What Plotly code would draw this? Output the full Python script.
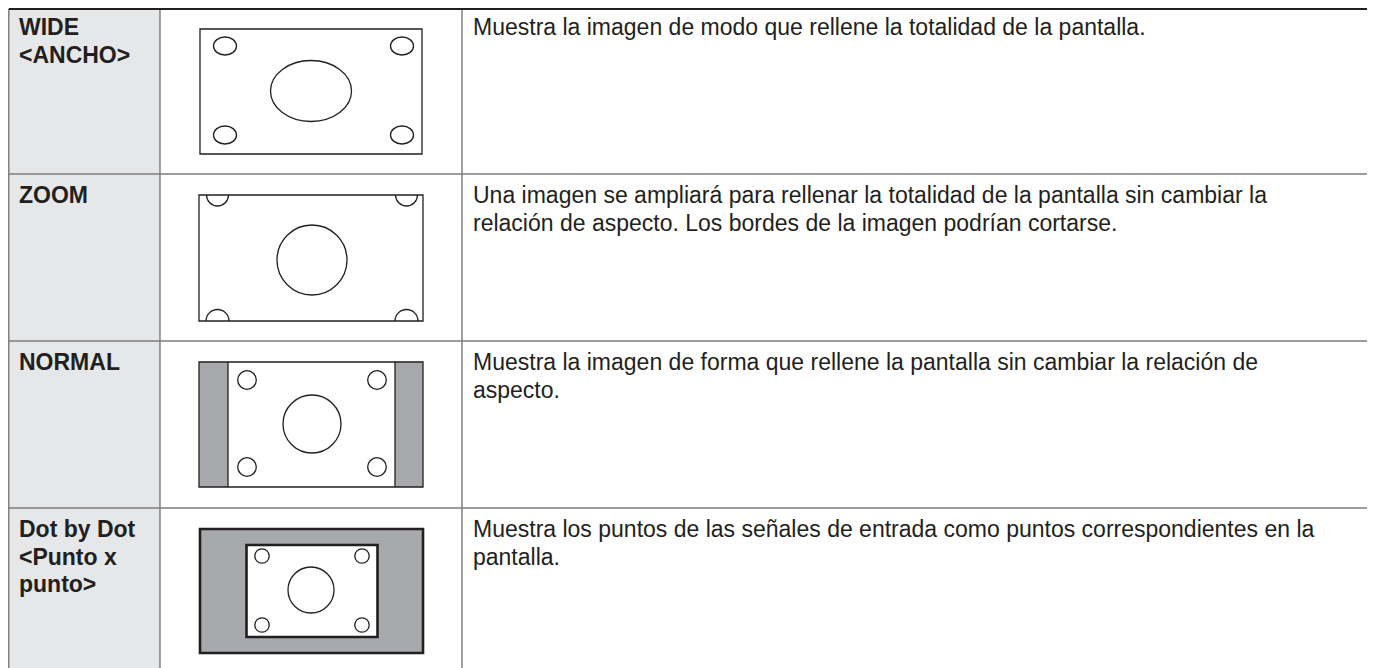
import plotly.graph_objects as go

# ---- table content ----
mode_labels = [
    ["WIDE", "&lt;ANCHO&gt;"],
    ["ZOOM"],
    ["NORMAL"],
    ["Dot by Dot", "&lt;Punto x", "punto&gt;"],
]
descriptions = [
    ["Muestra la imagen de modo que rellene la totalidad de la pantalla."],
    ["Una imagen se ampliará para rellenar la totalidad de la pantalla sin cambiar la",
     "relación de aspecto. Los bordes de la imagen podrían cortarse."],
    ["Muestra la imagen de forma que rellene la pantalla sin cambiar la relación de",
     "aspecto."],
    ["Muestra los puntos de las señales de entrada como puntos correspondientes en la",
     "pantalla."],
]

# page body has an 8px margin: the figure covers page coords 8..1375 / 8..668
PAGE_W, PAGE_H, OFF = 1375, 668, 8
row_tops = [9, 174, 341, 508]
first_line = [27, 195, 362, 529]
line_gap = 27.5
x_left, x_c1, x_c2, x_right = 8.8, 160, 462, 1368

INK = "#231f20"
GRAY = "#a7a9ac"
CELL = "#e6e7e8"
RULE = "#7d7d7d"
FONT = "Liberation Sans, Arial, sans-serif"
FSIZE = 23

shapes = []
def rect(x0, y0, x1, y1, fill="rgba(0,0,0,0)", lc=INK, lw=1.3):
    shapes.append(dict(type="rect", xref="x", yref="y", x0=x0, y0=y0, x1=x1, y1=y1,
                       fillcolor=fill, line=dict(color=lc, width=lw), layer="above"))
def ell(cx, cy, rx, ry, lw=1.3):
    shapes.append(dict(type="circle", xref="x", yref="y", x0=cx-rx, x1=cx+rx, y0=cy-ry, y1=cy+ry,
                       fillcolor="white", line=dict(color=INK, width=lw), layer="above"))
def line(x0, y0, x1, y1, lc=RULE, lw=1.5):
    shapes.append(dict(type="line", xref="x", yref="y", x0=x0, y0=y0, x1=x1, y1=y1,
                       line=dict(color=lc, width=lw), layer="above"))
def half(cx, cy, r, down=True):
    k = 0.5523 * r
    s = r if down else -r
    ks = k if down else -k
    p = (f"M {cx-r},{cy} C {cx-r},{cy+ks} {cx-k},{cy+s} {cx},{cy+s} "
         f"C {cx+k},{cy+s} {cx+r},{cy+ks} {cx+r},{cy}")
    shapes.append(dict(type="path", xref="x", yref="y", path=p,
                       line=dict(color=INK, width=1.3), layer="above"))

# first column fill
shapes.append(dict(type="rect", xref="x", yref="y", x0=x_left, x1=x_c1, y0=9, y1=PAGE_H+2,
                   fillcolor=CELL, line=dict(width=0), layer="below"))
# grid lines
for xv in (x_left, x_c1, x_c2, x_right):
    line(xv, 9, xv, PAGE_H+2, "#6d6e71", 1.3)
for y in row_tops[1:]:
    line(x_left, y, x_right, y, RULE, 1.6)
line(x_left, 9, x_right, 9, INK, 2)

# WIDE diagram
rect(200, 29, 422, 154)
ell(311, 91, 40.5, 30.5)
for cx in (225, 402):
    for cy in (46, 135):
        ell(cx, cy, 11.5, 9)

# ZOOM diagram
rect(199, 195, 423, 321)
ell(312, 260, 35, 35)
for cx in (217.5, 406.5):
    half(cx, 195, 11, down=True)
    half(cx, 321, 11.5, down=False)

# NORMAL diagram
rect(199, 362, 228, 487, fill=GRAY, lw=0)
rect(395, 362, 423, 487, fill=GRAY, lw=0)
line(228, 362, 228, 487, INK, 1.3)
line(395, 362, 395, 487, INK, 1.3)
rect(199, 362, 423, 487)
ell(312, 424, 29, 29)
for cx in (247, 377):
    for cy in (380, 467):
        ell(cx, cy, 9.3, 9.3)

# Dot by Dot diagram
rect(200, 529, 423, 653, fill=GRAY, lw=2.6)
rect(246.5, 545, 377.5, 637, fill="white", lw=2.6)
ell(311, 590, 23, 23)
for cx in (262, 362):
    for cy in (556, 625):
        ell(cx, cy, 7.2, 7.2)

annotations = []
for i in range(4):
    for j, t in enumerate(mode_labels[i]):
        annotations.append(dict(x=19, y=first_line[i] + j * line_gap, xref="x", yref="y",
                                text=f"<b>{t}</b>", showarrow=False, xanchor="left", yanchor="middle",
                                xshift=-2, font=dict(family=FONT, size=FSIZE, color=INK)))
    for j, t in enumerate(descriptions[i]):
        annotations.append(dict(x=473, y=first_line[i] + j * line_gap, xref="x", yref="y",
                                text=t, showarrow=False, xanchor="left", yanchor="middle",
                                xshift=-2, font=dict(family=FONT, size=FSIZE, color=INK)))

fig = go.Figure()
fig.update_layout(
    width=PAGE_W - OFF, height=PAGE_H - OFF, margin=dict(l=0, r=0, t=0, b=0),
    paper_bgcolor="white", plot_bgcolor="white",
    xaxis=dict(range=[OFF, PAGE_W], visible=False, fixedrange=True),
    yaxis=dict(range=[PAGE_H, OFF], visible=False, fixedrange=True),
    shapes=shapes, annotations=annotations, showlegend=False,
)
fig.write_html("out.html", config={"displayModeBar": False})
